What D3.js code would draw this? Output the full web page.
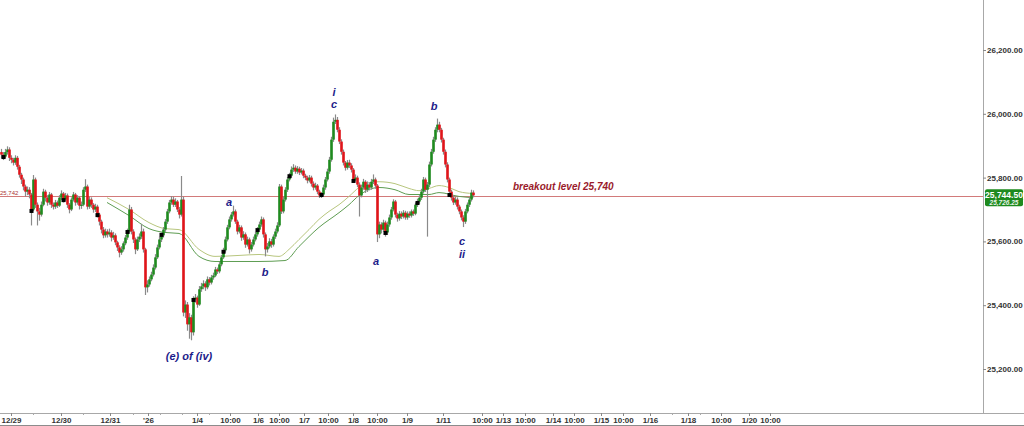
<!DOCTYPE html>
<html><head><meta charset="utf-8">
<script src="https://cdn.jsdelivr.net/npm/d3@7"></script>
<style>
html,body{margin:0;padding:0;background:#fff;}
svg{display:block;font-family:"Liberation Sans",Arial,sans-serif;}
</style></head><body>
<svg id="c" width="1024" height="426"></svg>
<script>
// ---------- DATA ----------
const firstOpen = 25880;
const closes = [25872,25866,25880,25888,25862,25856,25847,25862,25834,25809,
25794,25772,25756,25762,25747,25700,25794,25715,25694,25684,
25715,25756,25737,25722,25747,25715,25709,25722,25712,25737,
25750,25731,25744,25715,25700,25731,25747,25722,25737,25712,
25715,25762,25772,25709,25731,25715,25700,25709,25684,25662,
25637,25619,25631,25622,25628,25612,25619,25597,25581,25565,
25575,25594,25612,25631,25700,25631,25606,25575,25606,25615,
25631,25575,25456,25465,25481,25496,25518,25550,25581,25606,
25619,25637,25662,25694,25722,25731,25715,25725,25700,25684,
25731,25377,25402,25340,25362,25315,25418,25424,25402,25450,
25459,25468,25456,25481,25471,25487,25493,25512,25506,25528,
25550,25572,25606,25644,25669,25684,25694,25662,25631,25644,
25612,25622,25590,25606,25575,25590,25606,25622,25637,25653,
25669,25622,25575,25584,25600,25590,25615,25631,25650,25772,
25694,25731,25762,25794,25806,25825,25831,25819,25828,25816,
25822,25806,25800,25791,25800,25781,25769,25775,25756,25744,
25747,25769,25794,25819,25856,25919,25975,25981,25950,25913,
25881,25847,25831,25847,25838,25825,25794,25800,25778,25744,
25769,25787,25762,25778,25769,25787,25794,25775,25622,25653,
25637,25659,25628,25653,25675,25700,25725,25684,25672,25687,
25678,25690,25675,25687,25681,25694,25687,25715,25725,25737,
25756,25794,25762,25778,25841,25881,25919,25950,25966,25950,
25919,25881,25841,25794,25756,25737,25722,25731,25709,25694,
25675,25662,25694,25715,25731,25753,25744.5];
const highs = [25890,25880,25890,25898,25895,25870,25862,25870,25868,25840,
25815,25800,25778,25772,25770,25752,25808,25800,25722,25705,
25725,25765,25762,25745,25755,25752,25722,25730,25728,25745,
25760,25755,25752,25750,25720,25738,25755,25752,25745,25742,
25725,25770,25795,25778,25740,25738,25720,25718,25715,25690,
25668,25645,25640,25638,25640,25635,25630,25625,25602,25588,
25585,25600,25620,25640,25715,25708,25638,25612,25615,25625,
25655,25640,25580,25478,25490,25505,25528,25560,25590,25615,
25628,25645,25670,25702,25730,25742,25740,25735,25730,25708,
25805,25740,25415,25410,25375,25370,25428,25435,25430,25460,
25470,25478,25475,25490,25488,25495,25502,25520,25518,25535,
25558,25580,25615,25652,25678,25692,25712,25700,25668,25652,
25650,25632,25628,25615,25612,25598,25615,25630,25645,25662,
25678,25675,25628,25595,25610,25608,25622,25640,25660,25780,
25778,25740,25770,25802,25815,25835,25842,25838,25836,25834,
25830,25828,25812,25806,25808,25806,25788,25784,25780,25762,
25755,25778,25802,25828,25865,25928,25988,25998,25990,25958,
25920,25888,25852,25855,25856,25845,25830,25810,25806,25785,
25778,25796,25792,25788,25785,25796,25810,25800,25780,25662,
25660,25668,25665,25662,25684,25708,25732,25730,25690,25695,
25694,25698,25696,25694,25694,25700,25700,25722,25734,25745,
25765,25802,25800,25786,25850,25890,25928,25958,25985,25975,
25956,25925,25888,25848,25800,25762,25745,25740,25738,25715,
25700,25682,25702,25722,25738,25762,25760];
const lows = [25860,25855,25860,25872,25852,25845,25838,25840,25825,25800,
25780,25760,25740,25745,25735,25650,25695,25705,25650,25665,
25678,25710,25725,25712,25715,25705,25700,25702,25705,25708,
25730,25722,25725,25705,25688,25695,25725,25712,25715,25700,
25702,25710,25755,25700,25702,25705,25690,25692,25675,25650,
25625,25610,25612,25612,25615,25600,25605,25588,25570,25550,
25558,25568,25588,25605,25625,25622,25595,25560,25570,25598,
25608,25565,25432,25440,25458,25475,25490,25512,25545,25575,
25598,25612,25630,25655,25688,25715,25708,25708,25692,25672,
25678,25365,25360,25320,25295,25290,25305,25408,25392,25398,
25442,25450,25445,25450,25462,25465,25480,25488,25498,25500,
25522,25545,25565,25600,25638,25662,25678,25655,25622,25625,
25602,25605,25580,25584,25562,25568,25584,25600,25615,25630,
25646,25612,25553,25565,25578,25580,25584,25608,25625,25645,
25686,25688,25725,25755,25788,25800,25818,25812,25812,25808,
25810,25798,25792,25782,25785,25772,25760,25762,25748,25736,
25736,25740,25762,25788,25812,25850,25912,25968,25942,25905,
25872,25838,25822,25825,25830,25816,25786,25788,25770,25678,
25738,25762,25752,25755,25760,25762,25780,25765,25598,25610,
25625,25630,25615,25620,25646,25668,25694,25675,25662,25665,
25670,25672,25668,25668,25674,25675,25680,25682,25708,25718,
25730,25750,25755,25615,25770,25835,25875,25912,25942,25942,
25910,25872,25832,25785,25748,25728,25714,25715,25700,25685,
25666,25645,25655,25688,25708,25725,25738];

// black marker dots (bar index, value)
const dotBars = [1,15,31,48,63,80,96,111,128,144,160,176,192,208,224];
const dotVals = [25866,25697,25731,25684,25631,25622,25418,25569,25637,25806,25747,25791,25628,25722,25747];

// moving-average band lines (bar index, value)
const maBars  = [53,64,74,82,89,99,107,119,129,139,144,149,154,159,164,169,174,179,184,189,197,204,209,214,219,224,229,236];
const maLight = [25737,25700,25659,25640,25637,25575,25553,25556,25559,25553,25575,25606,25637,25669,25694,25715,25741,25769,25784,25787,25781,25766,25759,25766,25775,25769,25756,25750];
const maDarkBars = [53,64,74,82,89,99,107,129,142,149,159,169,174,179,189,197,204,214,219,229,236];
const maDark  = [25722,25681,25640,25628,25625,25553,25537,25537,25540,25584,25644,25690,25715,25744,25769,25762,25747,25747,25753,25741,25737];

const yTicks = [25200,25400,25600,25800,26000,26200];
const xTickLabels = ["12/29","12/30","12/31","'26","1/4","10:00","1/6","10:00","1/7","10:00","1/8","10:00","1/9","1/11","10:00","1/13","10:00","1/14","10:00","1/15","10:00","1/16","1/18","10:00","1/20","10:00"];
const xTickBars = [5,30,54.5,73.5,98,114.5,128.5,139,151.5,163.5,176,188,203,221,240.5,251,262,276,286.5,300,311,324.5,343.5,360,374,384.5];
const xMinorBars = [16,41,66,79.5,90.5,104,335.5,349.5];

const breakout = 25742;
const breakoutText = "breakout level 25,740";
const lastPrice = 25744.5;
const secondPrice = 25726.25;

// wave labels: text, bar position, price level (label centre)
const waveText = ["i","c","a","b","(e) of (iv)","a","b","c","ii"];
const waveBars = [166.5,166.5,114,132,94,187.5,216.5,230.5,230.5];
const waveVals = [26069,26032,25722,25503,25240,25537,26025,25600,25562];

// ---------- CHART ----------
const svg = d3.select("#c");
const W = 1024, H = 426, axisX = 983, axisY = 413;
const x = d3.scaleLinear().domain([0, 491]).range([1, 983]);
const y = d3.scaleLinear().domain([25200, 26200]).range([369, 50]);

svg.append("rect").attr("width",W).attr("height",H).attr("fill","#fff");
const defs = svg.append("defs");
defs.append("clipPath").attr("id","pc")
  .append("rect").attr("x",0).attr("y",0).attr("width",axisX).attr("height",axisY);

const plot = svg.append("g").attr("clip-path","url(#pc)");

// breakout line
plot.append("line").attr("x1",0).attr("x2",axisX)
  .attr("y1",Math.round(y(breakout))+0.5).attr("y2",Math.round(y(breakout))+0.5)
  .attr("stroke","#d27a7a").attr("stroke-width",1);
plot.append("text").attr("x",0).attr("y",y(breakout)-1.5)
  .attr("font-size",6).attr("fill","#a33").text(d3.format(",")(breakout));

// MA lines
const lineGen = d3.line().curve(d3.curveMonotoneX);
plot.append("path").attr("fill","none").attr("stroke","#b8c67e").attr("stroke-width",1)
  .attr("d", lineGen(maBars.map((b,i)=>[x(b), y(maLight[i])])));
plot.append("path").attr("fill","none").attr("stroke","#5e9d52").attr("stroke-width",1)
  .attr("d", lineGen(maDarkBars.map((b,i)=>[x(b), y(maDark[i])])));

// candles
const bars = closes.map((c,i)=>({i, o: i===0?firstOpen:closes[i-1], c, h: highs[i], l: lows[i]}));
const cg = plot.append("g");
cg.selectAll("line.w").data(bars).join("line").attr("class","w")
  .attr("x1",d=>x(d.i)+0.5).attr("x2",d=>x(d.i)+0.5)
  .attr("y1",d=>y(d.h)).attr("y2",d=>y(d.l))
  .attr("stroke","#8a8a8a").attr("stroke-width",1.2);
cg.selectAll("rect.b").data(bars).join("rect").attr("class","b")
  .attr("x",d=>x(d.i)-0.8).attr("width",2.6)
  .attr("y",d=>y(Math.max(d.o,d.c)))
  .attr("height",d=>Math.max(1.2, Math.abs(y(d.o)-y(d.c))))
  .attr("fill",d=>d.c>=d.o?"#1f8a1f":"#e0141a");

// dots
plot.selectAll("rect.d").data(dotBars).join("rect").attr("class","d")
  .attr("x",(b)=>x(b)-1.5).attr("y",(b,i)=>y(dotVals[i])-1.5)
  .attr("width",4).attr("height",4).attr("fill","#000");

// wave labels
plot.selectAll("text.wl").data(waveText).join("text").attr("class","wl")
  .attr("x",(d,i)=>x(waveBars[i])).attr("y",(d,i)=>y(waveVals[i])+4)
  .attr("text-anchor","middle").attr("font-size",11).attr("font-weight","bold")
  .attr("font-style","italic").attr("fill","#1c1c8a").text(d=>d);

// breakout text
plot.append("text").attr("x",x(256)).attr("y",y(breakout)-6)
  .attr("font-size",10).attr("font-weight","bold").attr("font-style","italic")
  .attr("fill","#9a1b2c").text(breakoutText);

// frame lines
svg.append("line").attr("x1",axisX+0.5).attr("x2",axisX+0.5).attr("y1",0).attr("y2",axisY)
  .attr("stroke","#a8a8a8");
svg.append("line").attr("x1",0).attr("x2",W).attr("y1",axisY+0.5).attr("y2",axisY+0.5)
  .attr("stroke","#a8a8a8");
svg.append("line").attr("x1",0).attr("x2",W).attr("y1",425.5).attr("y2",425.5)
  .attr("stroke","#8c8c8c");

// y axis
const ya = svg.append("g").attr("transform",`translate(${axisX},0)`)
  .call(d3.axisRight(y).tickValues(yTicks).tickFormat(d3.format(",.2f")).tickSize(3).tickPadding(1));
ya.select(".domain").remove();
ya.selectAll("line").attr("stroke","#888");
ya.selectAll("text").attr("font-size",8).attr("font-weight","bold").attr("fill","#333")
  .attr("font-family","'Liberation Sans',Arial,sans-serif");

// x axis
const xa = svg.append("g").attr("transform",`translate(0,${axisY})`)
  .call(d3.axisBottom(x).tickValues(xTickBars).tickFormat((d,i)=>xTickLabels[i]).tickSize(3).tickPadding(1));
xa.select(".domain").remove();
xa.selectAll("line").attr("stroke","#888");
xa.selectAll("text").attr("font-size",8).attr("font-weight","bold").attr("fill","#333")
  .attr("font-family","'Liberation Sans',Arial,sans-serif");
svg.append("g").attr("transform",`translate(0,${axisY})`)
  .call(d3.axisBottom(x).tickValues(xMinorBars).tickFormat("").tickSize(2))
  .call(g=>g.select(".domain").remove())
  .selectAll("line").attr("stroke","#aaa");

// price labels (second tag partly hidden behind the last-price tag)
const cy1 = y(lastPrice);
const tag2 = svg.append("g");
tag2.append("rect").attr("x",axisX+2).attr("y",cy1+2).attr("width",38).attr("height",9)
  .attr("rx",2).attr("fill","#1e8a1e");
tag2.append("text").attr("x",axisX+21).attr("y",cy1+10).attr("text-anchor","middle")
  .attr("font-size",6.5).attr("font-weight","bold").attr("font-style","italic")
  .attr("fill","#e8f3e8").text(d3.format(",.2f")(secondPrice));
const tag1 = svg.append("g");
tag1.append("rect").attr("x",axisX+2).attr("y",cy1-6).attr("width",38).attr("height",10.5)
  .attr("rx",2).attr("fill","#1e8a1e");
tag1.append("text").attr("x",axisX+21).attr("y",cy1+2.8).attr("text-anchor","middle")
  .attr("font-size",8.5).attr("font-weight","bold").attr("fill","#fff").text(d3.format(",.2f")(lastPrice));
</script>
</body></html>
